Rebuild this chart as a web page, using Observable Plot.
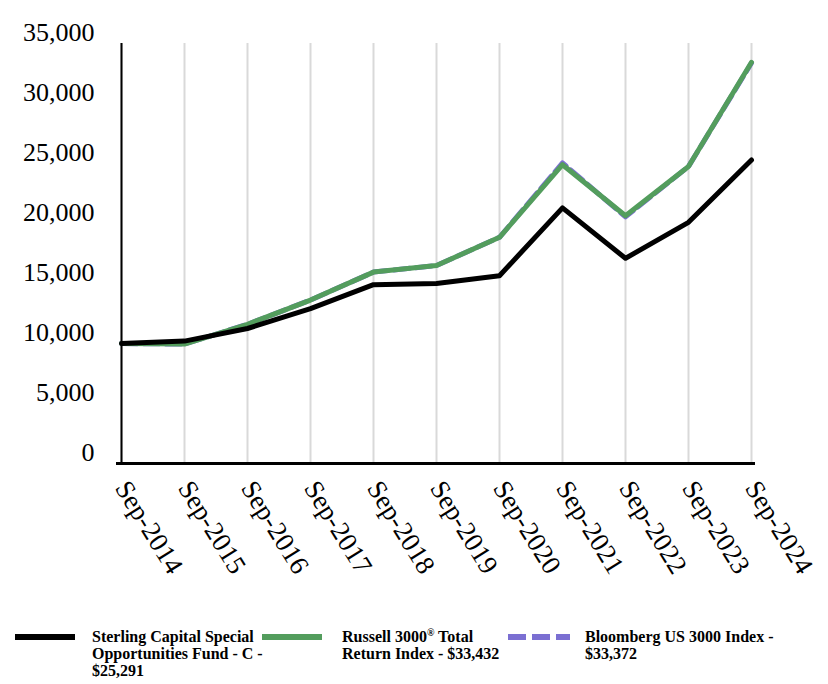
<!DOCTYPE html>
<html><head><meta charset="utf-8">
<script src="https://cdn.jsdelivr.net/npm/d3@7"></script>
<script src="https://cdn.jsdelivr.net/npm/@observablehq/plot@0.6"></script>
<style>
body{margin:0;background:#fff;font-family:"Liberation Serif","Times New Roman",serif;position:relative;width:828px;height:684px;overflow:hidden;}
#chart{position:absolute;left:0;top:0;}
.sw{position:absolute;}
.lt{position:absolute;font-weight:bold;font-size:16px;line-height:17px;color:#000;}
</style></head><body>
<div id="chart"></div>
<div id="legend"></div>
<script>
const periods = ["Sep-2014","Sep-2015","Sep-2016","Sep-2017","Sep-2018","Sep-2019","Sep-2020","Sep-2021","Sep-2022","Sep-2023","Sep-2024"];
const fundValues = [10000,10200,11250,12900,14900,15000,15650,21300,17100,20100,25291];
const russellValues = [10000,9950,11600,13620,15950,16500,18850,24900,20650,24750,33432];
const bloombergValues = [10000,9950,11600,13620,15950,16500,18850,25050,20550,24750,33372];
const seriesNames = ["Sterling Capital Special Opportunities Fund - C - $25,291","Russell 3000® Total Return Index - $33,432","Bloomberg US 3000 Index - $33,372"];
const yTicks = [0,5000,10000,15000,20000,25000,30000,35000];

const rows = (vals, s) => periods.map((p, i) => ({period: p, value: vals[i], series: s}));
const fund = rows(fundValues, seriesNames[0]);
const russell = rows(russellValues, seriesNames[1]);
const bloom = rows(bloombergValues, seriesNames[2]);

const chart = Plot.plot({
  width: 828,
  height: 620,
  marginLeft: 116,
  marginRight: 73,
  marginTop: 43,
  marginBottom: 157,
  style: {fontFamily: "Liberation Serif, Times New Roman, serif", fontSize: "26px", color: "#000", background: "#fff"},
  x: {type: "point", domain: periods, padding: 0, range: [116, 755]},
  y: {domain: [0, 35000], range: [463, 43]},
  marks: [
    Plot.gridX({stroke: "#d9d9d9", strokeOpacity: 1, strokeWidth: 2}),
    Plot.axisY({ticks: yTicks, tickSize: 0, tickPadding: 22, tickFormat: d3.format(","), dy: -11, fontSize: 26, label: null}),
    Plot.axisX({tickSize: 0, tickPadding: 20, tickRotate: 58, fontSize: 27, label: null}),
    Plot.line(bloom, {x: "period", y: "value", stroke: "#7b6fd2", strokeWidth: 5, strokeDasharray: "16,6"}),
    Plot.line(russell, {x: "period", y: "value", stroke: "#539d5d", strokeWidth: 5}),
    Plot.line(fund, {x: "period", y: "value", stroke: "#000", strokeWidth: 5}),
    Plot.ruleX([periods[0]], {y1: 0, y2: 35000, stroke: "#000", strokeWidth: 2}),
    Plot.ruleY([0], {stroke: "#000", strokeWidth: 3})
  ]
});
document.getElementById("chart").appendChild(chart);

const legend = document.getElementById("legend");
const items = [
  {x1: 15, x2: 75, tx: 92, color: "#000", dash: null, html: "Sterling Capital Special<br>Opportunities Fund - C -<br>$25,291"},
  {x1: 262, x2: 322, tx: 342, color: "#539d5d", dash: null, html: "Russell 3000<sup style=\"font-size:10px;line-height:0\">®</sup> Total<br>Return Index - $33,432"},
  {x1: 508, x2: 570, tx: 585, color: "#7b6fd2", dash: "18,6", html: "Bloomberg US 3000 Index -<br>$33,372"}
];
items.forEach(it => {
  const s = document.createElementNS("http://www.w3.org/2000/svg", "svg");
  s.setAttribute("class", "sw");
  s.setAttribute("width", it.x2 - it.x1);
  s.setAttribute("height", 8);
  s.style.left = it.x1 + "px";
  s.style.top = "633px";
  const l = document.createElementNS("http://www.w3.org/2000/svg", "line");
  l.setAttribute("x1", 0); l.setAttribute("x2", it.x2 - it.x1);
  l.setAttribute("y1", 4); l.setAttribute("y2", 4);
  l.setAttribute("stroke", it.color); l.setAttribute("stroke-width", 6);
  if (it.dash) l.setAttribute("stroke-dasharray", it.dash);
  s.appendChild(l);
  legend.appendChild(s);
  const t = document.createElement("div");
  t.className = "lt";
  t.style.left = it.tx + "px";
  t.style.top = "628px";
  t.innerHTML = it.html;
  legend.appendChild(t);
});
</script>
</body></html>
